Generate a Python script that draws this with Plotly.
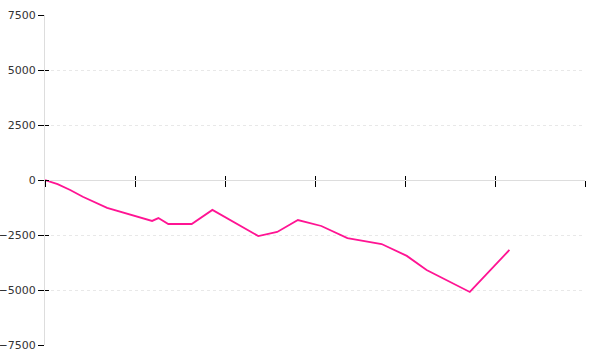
import plotly.graph_objects as go

# data
x_vals = [0, 1.4, 2.8, 4.2, 6.9, 11.9, 12.6, 13.7, 16.3, 18.6, 23.7, 25.8, 28.1, 30.7, 33.6, 37.4, 40.2, 42.4, 47.2, 51.6]
y_vals = [0, -190, -455, -760, -1270, -1860, -1730, -2000, -2000, -1360, -2550, -2360, -1820, -2090, -2640, -2910, -3450, -4090, -5090, -3180]
y_ticks = [-7500, -5000, -2500, 0, 2500, 5000, 7500]
x_ticks = [0, 10, 20, 30, 40, 50, 60]

fig = go.Figure()
fig.add_trace(go.Scatter(x=x_vals, y=y_vals, mode="lines",
                         line=dict(color="#ff1493", width=1.8), hoverinfo="skip",
                         showlegend=False))
# invisible helper trace on overlay axes (for inner tick halves)
fig.add_trace(go.Scatter(x=x_vals, y=y_vals, mode="lines", xaxis="x2", yaxis="y2",
                         line=dict(color="rgba(0,0,0,0)", width=0), hoverinfo="skip",
                         showlegend=False))

common_x = dict(range=[0, 60], tickvals=x_ticks, showticklabels=False, showgrid=False,
                zeroline=False, tickcolor="black", tickwidth=1, anchor="free", position=0.5,
                automargin=False)
fig.update_layout(
    width=600, height=360,
    margin=dict(l=45, r=15, t=15, b=15),
    plot_bgcolor="white", paper_bgcolor="white",
    font=dict(family="DejaVu Sans", size=11, color="#333333"),
    xaxis=dict(**common_x, ticks="outside", ticklen=6, showline=True,
               linecolor="#dddddd", linewidth=1),
    xaxis2=dict(**common_x, ticks="inside", ticklen=4, showline=False, overlaying="x"),
    yaxis=dict(range=[-7500, 7500], tickvals=y_ticks, ticks="outside", ticklen=6,
               tickcolor="black", tickwidth=1, showline=True, linecolor="#dddddd",
               linewidth=1, showgrid=True, gridcolor="#e8e8e8", griddash="dot",
               gridwidth=1, zeroline=False, automargin=False,
               tickfont=dict(size=11, color="#333333")),
    yaxis2=dict(range=[-7500, 7500], tickvals=y_ticks, ticks="inside", ticklen=4,
                tickcolor="black", tickwidth=1, showticklabels=False, showline=False,
                showgrid=False, zeroline=False, overlaying="y", side="left",
                automargin=False),
)
fig.write_html("out.html")
